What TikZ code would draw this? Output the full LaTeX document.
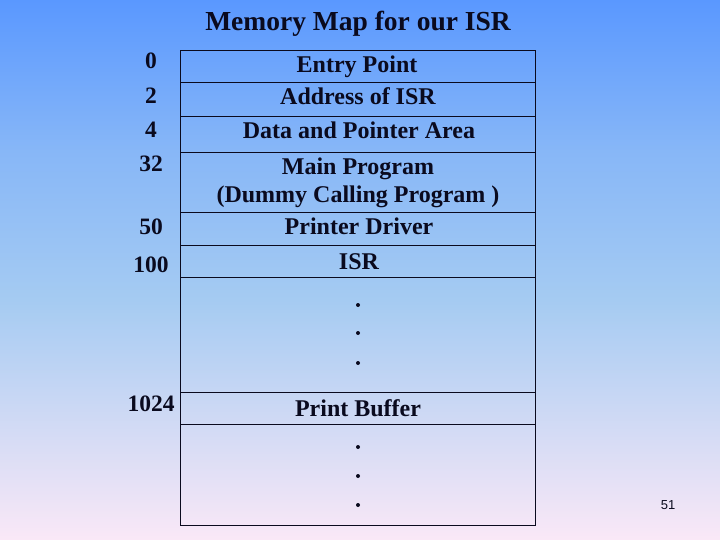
\documentclass[tikz,border=0pt]{standalone}
\usepackage{fontspec}
\setmainfont{Liberation Serif}
\newfontfamily\pagefont{Liberation Sans}
\definecolor{bgtop}{RGB}{90,152,255}
\definecolor{bgmid}{RGB}{165,203,242}
\definecolor{bgbot}{RGB}{250,232,247}
\definecolor{ink}{RGB}{10,10,30}
\begin{document}
\begin{tikzpicture}[x=1pt,y=-1pt,
  cell/.style={draw=ink,line width=1pt},
  lbl/.style={anchor=base,font=\fontsize{24}{26}\bfseries,text=ink,inner sep=0pt},
  addr/.style={anchor=base,font=\fontsize{23.5}{25}\bfseries,text=ink,inner sep=0pt},
  dotm/.style={fill=ink,circle,inner sep=0pt,minimum size=4pt}]
\useasboundingbox (0,0) rectangle (720,540);
\shade[top color=bgtop,bottom color=bgmid,middle color=bgmid!60!bgtop] (0,0) rectangle (720,300);
\shade[top color=bgmid,bottom color=bgbot] (0,300) rectangle (720,540);
% title
\node[lbl,font=\fontsize{27.5}{29}\bfseries] (title) at (358,31) {Memory Map for our ISR};
% rows
\foreach \a/\b/\n in {51/83/r1,83/117/r2,117/153/r3,153/213/r4,213/245/r5,245/277/r6,277/392/r7,392/424/r8,424/525/r9}
  \draw[cell] (180,\a) rectangle (535,\b) coordinate (\n);
% contents
\node[lbl] (t1) at (357,73) {Entry Point};
\node[lbl] (t2) at (358,105) {Address of ISR};
\node[lbl] (t3) at (359,139) {Data and Pointer Area};
\node[lbl] (t4) at (358,175) {Main Program};
\node[lbl] (t4b) at (358,203) {(Dummy Calling Program )};
\node[lbl] (t5) at (359,235) {Printer Driver};
\node[lbl] (t6) at (359,269) {ISR};
\node[lbl] (t8) at (358,416) {Print Buffer};
\foreach \y/\n in {305/d1,333/d2,363/d3,447/d4,476/d5,505/d6}
  \node[dotm] (\n) at (358,\y) {};
% addresses
\node[addr] (a0) at (151,69) {0};
\node[addr] (a2) at (151,104) {2};
\node[addr] (a4) at (151,138) {4};
\node[addr] (a32) at (151,172) {32};
\node[addr] (a50) at (151,235) {50};
\node[addr] (a100) at (151,272) {100};
\node[addr] (a1024) at (151,411) {1024};
% page number
\node[anchor=base,font=\pagefont\fontsize{13}{14}\selectfont,text=ink,inner sep=0pt] (pg) at (668,509) {51};
\end{tikzpicture}
\end{document}
